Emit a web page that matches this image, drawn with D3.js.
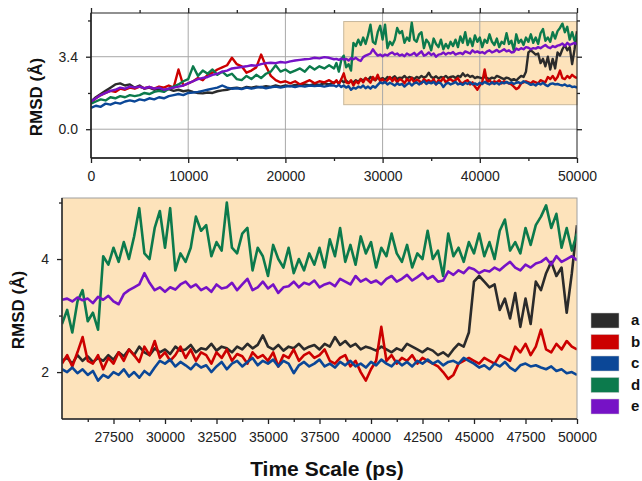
<!DOCTYPE html>
<html>
<head>
<meta charset="utf-8">
<script src="https://cdn.jsdelivr.net/npm/d3@7"></script>
<style>
  body { margin: 0; background: #fff; }
  text { font-family: "Liberation Sans", Arial, sans-serif; }
</style>
</head>
<body>
<script>
// sampling grid of the trajectories (ps)
var earlyStart = 0, earlyStep = 500
var lateStart = 25000, lateStep = 250

var seriesNames = ["a", "b", "c", "d", "e"]

// RMSD values 0 - 24500 ps
var aEarly = [1.3, 1.5, 1.65, 1.8, 1.95, 2.1, 2.15, 2.05, 2.1, 1.95,
  2.05, 1.9, 1.95, 1.85, 1.9, 1.82, 1.88, 1.8, 1.85, 1.78,
  1.82, 1.75, 1.7, 1.68, 1.72, 1.7, 1.78, 1.82, 1.85, 1.92,
  1.95, 1.9, 1.98, 1.95, 2.0, 1.97, 2.02, 1.98, 2.05, 2.0,
  2.05, 2.02, 2.08, 2.05, 2.1, 2.05, 2.12, 2.08, 2.15, 2.1]
var bEarly = [1.25, 1.45, 1.6, 1.7, 1.8, 1.75, 1.9, 1.85, 1.95, 1.9,
  2.0, 1.92, 1.98, 1.9, 2.0, 1.95, 2.05, 1.95, 2.8, 2.05,
  2.15, 2.25, 2.4, 2.3, 2.55, 2.65, 2.8, 2.9, 3.0, 3.35,
  3.05, 2.95, 2.65, 2.75, 2.9, 3.5, 2.95, 2.5, 2.3, 2.2,
  2.25, 2.15, 2.25, 2.1, 2.2, 2.3, 2.15, 2.25, 2.2, 2.3]
var cEarly = [1.0, 1.1, 1.05, 1.2, 1.15, 1.25, 1.2, 1.3, 1.35, 1.3,
  1.4, 1.35, 1.45, 1.4, 1.5, 1.45, 1.55, 1.6, 1.65, 1.6,
  1.7, 1.72, 1.75, 1.8, 1.85, 1.9, 1.95, 2.05, 1.95, 1.9,
  1.92, 1.88, 1.95, 1.9, 1.95, 1.98, 1.92, 1.97, 2.0, 1.95,
  2.0, 2.02, 1.98, 2.03, 2.0, 2.05, 2.02, 2.05, 2.0, 2.05]
var dEarly = [1.2, 1.3, 1.4, 1.35, 1.5, 1.45, 1.55, 1.5, 1.6, 1.55,
  1.6, 1.7, 1.65, 1.75, 1.8, 1.75, 1.9, 2.0, 2.1, 2.25,
  2.35, 2.95, 2.5, 2.75, 2.6, 2.8, 2.55, 2.7, 2.5, 2.6,
  2.35, 2.3, 2.5, 2.35, 2.55, 2.4, 2.6, 2.7, 3.0, 2.7,
  2.8, 2.65, 2.75, 2.85, 2.7, 2.95, 2.8, 2.95, 2.85, 3.0]
var eEarly = [1.3, 1.45, 1.6, 1.7, 1.8, 1.85, 1.95, 1.9, 2.0, 1.95,
  2.0, 1.92, 1.98, 1.9, 1.95, 1.85, 1.9, 1.95, 2.0, 2.05,
  2.15, 2.25, 2.35, 2.4, 2.45, 2.55, 2.6, 2.7, 2.75, 2.85,
  2.88, 2.92, 2.95, 3.0, 2.98, 3.05, 3.1, 3.12, 3.1, 3.15,
  3.12, 3.18, 3.22, 3.25, 3.28, 3.3, 3.35, 3.32, 3.38, 3.35]

// RMSD values 25000 - 50000 ps
var aLate = [2.2, 2.25, 2.15, 2.3, 2.2, 2.28, 2.18, 2.25,
  2.2, 2.3, 2.22, 2.35, 2.28, 2.4, 2.3, 2.45,
  2.35, 2.3, 2.42, 2.35, 2.4, 2.32, 2.45, 2.38,
  2.4, 2.48, 2.35, 2.42, 2.4, 2.5, 2.38, 2.45,
  2.42, 2.35, 2.45, 2.4, 2.5, 2.42, 2.48, 2.65,
  2.45, 2.4, 2.48, 2.38, 2.45, 2.42, 2.5, 2.4,
  2.45, 2.48, 2.4, 2.5, 2.45, 2.62, 2.48, 2.55,
  2.45, 2.5, 2.4, 2.45, 2.42, 2.38, 2.45, 2.4,
  2.35, 2.42, 2.38, 2.5, 2.45, 2.4, 2.35, 2.42,
  2.38, 2.3, 2.35, 2.28, 2.4, 2.5, 2.45, 2.7,
  3.6, 3.7, 3.6, 3.5, 3.55, 3.1, 3.3, 2.95,
  3.4, 2.8, 3.3, 2.85, 3.6, 3.45, 3.75, 3.95,
  3.7, 3.85, 3.05, 3.75, 4.6]
var bLate = [2.15, 2.3, 2.1, 2.35, 2.62, 2.2, 2.15, 2.3,
  2.05, 2.25, 2.15, 2.35, 2.2, 2.4, 2.3, 2.18,
  2.45, 2.3, 2.55, 2.25, 2.35, 2.2, 2.3, 2.45,
  2.25, 2.4, 2.2, 2.35, 2.3, 2.15, 2.35, 2.25,
  2.4, 2.2, 2.32, 2.28, 2.15, 2.35, 2.25, 2.3,
  2.2, 2.35, 2.1, 2.3, 2.25, 2.4, 2.2, 2.3,
  2.35, 2.25, 2.3, 2.4, 2.2, 2.15, 2.25, 2.3,
  2.1, 2.2, 2.0, 1.85, 2.05, 2.2, 2.8, 2.2,
  2.3, 2.15, 2.25, 2.2, 2.3, 2.15, 2.25, 2.2,
  2.15, 2.1, 2.0, 1.88, 1.95, 2.15, 2.2, 2.25,
  2.2, 2.15, 2.25, 2.2, 2.15, 2.3, 2.25, 2.2,
  2.45, 2.35, 2.5, 2.3, 2.45, 2.75, 2.4, 2.35,
  2.5, 2.4, 2.55, 2.45, 2.4]
var cLate = [2.05, 2.0, 2.08, 1.98, 2.05, 1.95, 2.02, 1.85,
  1.95, 1.9, 2.0, 1.95, 2.05, 1.92, 2.0, 1.9,
  2.02, 1.95, 2.08, 2.2, 2.15, 2.22, 2.1, 2.18,
  2.12, 2.05, 2.15, 2.08, 2.12, 2.0, 2.1, 2.18,
  2.05, 2.15, 2.2, 2.1, 2.18, 2.25, 2.12, 2.2,
  2.15, 2.22, 2.1, 2.2, 2.15, 1.98, 2.12, 2.18,
  2.1, 2.15, 2.22, 2.1, 2.15, 2.08, 2.18, 2.12,
  2.2, 2.1, 2.15, 2.08, 2.18, 2.12, 2.22, 2.15,
  2.1, 2.2, 2.12, 2.18, 2.1, 2.2, 2.15, 2.22,
  2.15, 2.2, 2.12, 2.18, 2.2, 2.15, 2.25, 2.2,
  2.15, 2.08, 2.12, 2.05, 2.15, 2.1, 2.18, 2.08,
  2.02, 2.12, 2.15, 2.1, 2.12, 2.08, 2.05, 2.1,
  2.02, 2.05, 1.98, 2.0, 1.95]
var dLate = [2.85, 3.1, 2.7, 3.25, 3.45, 2.9, 3.05, 2.75,
  4.05, 3.9, 4.2, 3.95, 4.3, 4.0, 4.4, 4.9,
  4.1, 4.0, 4.55, 4.85, 4.2, 4.9, 3.8, 4.1,
  3.95, 4.2, 4.75, 4.5, 4.6, 4.05, 4.3, 4.15,
  5.0, 4.2, 4.1, 4.45, 4.55, 3.8, 4.2, 4.05,
  3.7, 4.25, 4.0, 3.85, 4.2, 3.75, 4.0, 3.8,
  4.1, 3.9, 4.2, 3.85, 4.35, 4.05, 4.55, 3.95,
  4.25, 3.9, 4.4, 4.1, 4.3, 3.85, 4.2, 4.05,
  4.45, 4.1, 3.95, 4.25, 3.85, 4.1, 4.0, 4.5,
  4.0, 4.15, 3.7, 4.45, 4.05, 4.2, 3.95, 4.3,
  4.1, 4.45, 4.05, 4.3, 4.0, 4.5, 4.7, 4.15,
  4.3, 4.1, 4.55, 4.25, 4.6, 4.75, 4.95, 4.55,
  4.8, 4.2, 4.55, 4.15, 4.45]
var eLate = [3.28, 3.3, 3.25, 3.32, 3.27, 3.3, 3.22, 3.33,
  3.28, 3.35, 3.25, 3.2, 3.38, 3.45, 3.5, 3.55,
  3.75, 3.58, 3.45, 3.5, 3.42, 3.5, 3.46, 3.55,
  3.6, 3.5, 3.55, 3.45, 3.5, 3.42, 3.55, 3.48,
  3.5, 3.58, 3.45, 3.55, 3.65, 3.45, 3.5, 3.6,
  3.48, 3.55, 3.4, 3.5, 3.52, 3.6, 3.5, 3.58,
  3.55, 3.62, 3.5, 3.55, 3.58, 3.52, 3.65, 3.6,
  3.55, 3.7, 3.6, 3.65, 3.58, 3.62, 3.55, 3.65,
  3.7, 3.6, 3.65, 3.72, 3.62, 3.68, 3.75, 3.65,
  3.7, 3.6, 3.62, 3.78, 3.72, 3.8, 3.75, 3.85,
  3.82, 3.75, 3.8, 3.78, 3.85, 3.8, 3.88, 3.95,
  3.85, 3.8, 3.9, 3.85, 3.92, 3.95, 4.02, 3.9,
  4.05, 3.95, 4.0, 4.05, 3.98]

// ticks
var topXMajor = [0, 10000, 20000, 30000, 40000, 50000]
var topXMinor = [5000, 15000, 25000, 35000, 45000]
var topYMajor = [0, 3.4]
var topYMinor = [1.7, 5.1]
var botXMajor = [27500, 30000, 32500, 35000, 37500, 40000, 42500, 45000, 47500, 50000]
var botXMinor = [26250, 28750, 31250, 33750, 36250, 38750, 41250, 43750, 46250, 48750]
var botYMajor = [2, 4]
var botYMinor = [3, 5]

// zoomed window shown in the bottom panel
var zoomBox = {x0: 26000, x1: 50000, y0: 1.15, y1: 5.05}

var colors = ["#2b2b2b", "#cc0000", "#0b4797", "#0c7a4c", "#7612c6"]
var peach = "#fde3bb"

var earlyList = [aEarly, bEarly, cEarly, dEarly, eEarly]
var lateList = [aLate, bLate, cLate, dLate, eLate]

var series = seriesNames.map(function (name, k) {
  var pts = earlyList[k].map(function (v, i) { return [earlyStart + i * earlyStep, v] })
  lateList[k].forEach(function (v, i) { pts.push([lateStart + i * lateStep, v]) })
  return {name: name, color: colors[k], points: pts}
})

var width = 642, height = 481

var svg = d3.select("body").append("svg")
  .attr("width", width)
  .attr("height", height)

var defs = svg.append("defs")

function drawPanel(opt) {
  var x = d3.scaleLinear().domain(opt.xDomain).range([opt.left, opt.right])
  var y = d3.scaleLinear().domain(opt.yDomain).range([opt.bottom, opt.top])
  var g = svg.append("g")

  defs.append("clipPath").attr("id", opt.id)
    .append("rect")
    .attr("x", opt.left).attr("y", opt.top)
    .attr("width", opt.right - opt.left).attr("height", opt.bottom - opt.top)

  if (opt.bg) {
    g.append("rect")
      .attr("x", opt.left).attr("y", opt.top)
      .attr("width", opt.right - opt.left).attr("height", opt.bottom - opt.top)
      .attr("fill", opt.bg)
  }

  if (opt.box) {
    g.append("rect")
      .attr("x", x(opt.box.x0)).attr("y", y(opt.box.y1))
      .attr("width", x(opt.box.x1) - x(opt.box.x0))
      .attr("height", y(opt.box.y0) - y(opt.box.y1))
      .attr("fill", peach)
      .attr("stroke", "#c8b89c")
      .attr("stroke-width", 1)
  }

  if (opt.grid) {
    g.append("g").selectAll("line").data(opt.xMajor.filter(function (d) { return d > opt.xDomain[0] && d < opt.xDomain[1] }))
      .enter().append("line")
      .attr("x1", d => x(d)).attr("x2", d => x(d))
      .attr("y1", opt.top).attr("y2", opt.bottom)
      .attr("stroke", "#a8a8a8").attr("stroke-width", 1)
    g.append("g").selectAll("line").data(opt.yMajor)
      .enter().append("line")
      .attr("x1", opt.left).attr("x2", opt.right)
      .attr("y1", d => y(d)).attr("y2", d => y(d))
      .attr("stroke", "#a8a8a8").attr("stroke-width", 1)
  }

  var line = d3.line()
    .x(d => x(d[0]))
    .y(d => y(d[1]))

  g.append("g")
    .attr("clip-path", "url(#" + opt.id + ")")
    .selectAll("path")
    .data(series)
    .enter()
    .append("path")
    .attr("d", d => line(d.points.filter(p => p[0] >= opt.xDomain[0])))
    .attr("fill", "none")
    .attr("stroke", d => d.color)
    .attr("stroke-width", opt.lineWidth)
    .attr("stroke-linejoin", "round")

  // frame
  g.append("rect")
    .attr("x", opt.left).attr("y", opt.top)
    .attr("width", opt.right - opt.left).attr("height", opt.bottom - opt.top)
    .attr("fill", "none")
    .attr("stroke", opt.frameColor)
    .attr("stroke-width", 1)

  function styleAxis(sel) {
    sel.select(".domain").remove()
    sel.selectAll(".tick line").attr("stroke", "#222").attr("stroke-width", 1.3)
    sel.selectAll(".tick text").attr("font-size", 14).attr("fill", "#222")
      .attr("font-family", "'Liberation Sans', Arial, sans-serif")
  }

  // bottom axis
  g.append("g").attr("transform", "translate(0," + opt.bottom + ")")
    .call(d3.axisBottom(x).tickValues(opt.xMinor).tickSize(3).tickFormat(""))
    .call(styleAxis)
  g.append("g").attr("transform", "translate(0," + opt.bottom + ")")
    .call(d3.axisBottom(x).tickValues(opt.xMajor).tickSize(5).tickPadding(8).tickFormat(d3.format("d")))
    .call(styleAxis)
  // left axis
  g.append("g").attr("transform", "translate(" + opt.left + ",0)")
    .call(d3.axisLeft(y).tickValues(opt.yMinor).tickSize(3).tickFormat(""))
    .call(styleAxis)
  g.append("g").attr("transform", "translate(" + opt.left + ",0)")
    .call(d3.axisLeft(y).tickValues(opt.yMajor).tickSize(5).tickPadding(8).tickFormat(d3.format(opt.yFormat)))
    .call(styleAxis)

  if (opt.mirror) {
    g.append("g").attr("transform", "translate(0," + opt.top + ")")
      .call(d3.axisTop(x).tickValues(opt.xMinor).tickSize(3).tickFormat(""))
      .call(styleAxis)
    g.append("g").attr("transform", "translate(0," + opt.top + ")")
      .call(d3.axisTop(x).tickValues(opt.xMajor).tickSize(5).tickFormat(""))
      .call(styleAxis)
    g.append("g").attr("transform", "translate(" + opt.right + ",0)")
      .call(d3.axisRight(y).tickValues(opt.yMinor).tickSize(3).tickFormat(""))
      .call(styleAxis)
    g.append("g").attr("transform", "translate(" + opt.right + ",0)")
      .call(d3.axisRight(y).tickValues(opt.yMajor).tickSize(5).tickFormat(""))
      .call(styleAxis)
  }

  // dark left and bottom edges
  g.append("line").attr("x1", opt.left).attr("x2", opt.left).attr("y1", opt.top).attr("y2", opt.bottom)
    .attr("stroke", "#222").attr("stroke-width", 1.5)
  g.append("line").attr("x1", opt.left).attr("x2", opt.right).attr("y1", opt.bottom).attr("y2", opt.bottom)
    .attr("stroke", "#222").attr("stroke-width", 1.5)

  // y title
  g.append("text")
    .attr("transform", "translate(" + opt.titleX + "," + opt.titleY + ") rotate(-90)")
    .attr("text-anchor", "middle")
    .attr("font-size", 17)
    .attr("font-weight", "bold")
    .attr("fill", "#111")
    .text("RMSD (Å)")
}

// top panel: whole trajectory
drawPanel({
  id: "clipTop",
  left: 91, right: 577, top: 13, bottom: 158,
  xDomain: [0, 50000], yDomain: [-1.35, 5.45],
  xMajor: topXMajor, xMinor: topXMinor, yMajor: topYMajor, yMinor: topYMinor,
  yFormat: ".1f", grid: true, mirror: true, box: zoomBox,
  frameColor: "#222", lineWidth: 2.4,
  titleX: 42, titleY: 97
})

// bottom panel: zoom on the last part
drawPanel({
  id: "clipBot",
  left: 62, right: 577, top: 198, bottom: 419,
  xDomain: [25000, 50000], yDomain: [1.17, 5.08],
  xMajor: botXMajor, xMinor: botXMinor, yMajor: botYMajor, yMinor: botYMinor,
  yFormat: "d", grid: false, mirror: false, bg: peach,
  frameColor: "#a0a0a0", lineWidth: 2.6,
  titleX: 24, titleY: 310
})

svg.append("text")
  .attr("x", 327).attr("y", 476)
  .attr("text-anchor", "middle")
  .attr("font-size", 21)
  .attr("font-weight", "bold")
  .attr("fill", "#111")
  .text("Time Scale (ps)")

// legend
var legend = svg.append("g")
  .selectAll("g")
  .data(series)
  .enter()
  .append("g")
  .attr("transform", (d, i) => "translate(591," + (313 + i * 21.5) + ")")

legend.append("rect")
  .attr("width", 28).attr("height", 15)
  .attr("fill", d => d.color)
  .attr("stroke", "#ccc").attr("stroke-width", 0.5)

legend.append("text")
  .attr("x", 40).attr("y", 12)
  .attr("font-size", 15)
  .attr("font-weight", "bold")
  .attr("fill", "#111")
  .text(d => d.name)
</script>
</body>
</html>
